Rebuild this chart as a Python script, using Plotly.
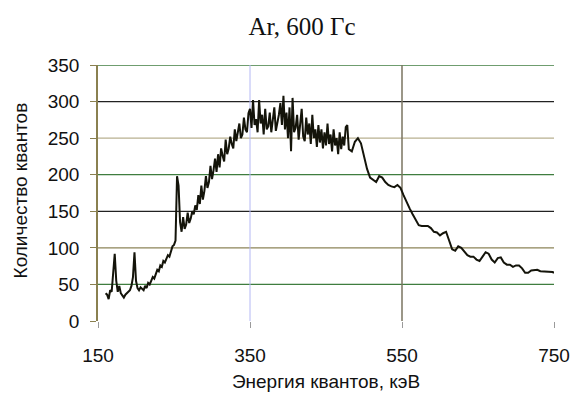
import plotly.graph_objects as go

# Energy (keV) and counts
energy = [
    160, 162, 164, 166, 168, 170, 172, 174, 176, 178, 180, 182, 184, 186, 188, 190,
    192, 194, 196, 198, 200, 202, 204, 206, 208, 210, 212, 214, 216, 218, 220, 222,
    224, 226, 228, 230, 232, 234, 236, 238, 240, 242, 244, 246, 248, 250, 252,
    254, 256, 258, 260, 262, 264, 266, 268, 270, 272, 274, 276, 278, 280, 282, 284,
    286, 288, 290, 292, 294, 296, 298, 300, 302, 304, 306, 308, 310, 312, 314, 316,
    318, 320, 322, 324, 326, 328, 330, 332, 334, 336, 338, 340, 342, 344, 346, 348,
    350, 352, 354, 356, 358, 360, 362, 364, 366, 368, 370, 372, 374, 376, 378, 380,
    382, 384, 386, 388, 390, 392, 394, 396, 398, 400, 402, 404, 406, 408, 410, 412,
    414, 416, 418, 420, 422, 424, 426, 428, 430, 432, 434, 436, 438, 440, 442, 444,
    446, 448, 450, 452, 454, 456, 458, 460, 462, 464, 466, 468, 470, 472, 474, 476,
    478, 480,
    484, 488, 492, 496, 500, 504, 508, 512, 516, 520, 524, 528, 532, 536, 540, 544,
    548, 552, 556, 560, 564, 568, 572, 576, 580, 584, 588, 592, 596, 600, 604, 608,
    612, 616, 620, 624, 628, 632, 636, 640, 644, 648, 652, 656, 660, 664, 668, 672,
    676, 680, 684, 688, 692, 696, 700, 704, 708, 712, 716, 720, 724, 728, 732, 736,
    740, 744, 748, 750,
]
counts = [
    38, 36, 30, 42, 40, 62, 92, 55, 40, 48, 38, 35, 32, 36, 38, 40,
    42, 48, 60, 94, 55, 45, 42, 46, 44, 42, 48, 45, 52, 50, 55, 60,
    58, 66, 70, 68, 76, 74, 82, 80, 86, 90, 88, 96, 102, 104, 110,
    198, 185, 135, 122, 142, 126, 132, 148, 134, 140, 150, 146, 158, 152, 172, 160,
    185, 166, 178, 198, 182, 190, 212, 194, 206, 222, 204, 228, 210, 236, 226, 218,
    248, 228, 236, 252, 242, 236, 262, 246, 258, 270, 250, 255, 278, 262, 258, 284,
    290, 264, 302, 268, 276, 258, 302, 270, 282, 255, 290, 262, 266, 285, 258, 280,
    292, 260, 270, 282, 298, 268, 308, 262, 285, 250, 292, 232, 305, 258, 264, 282,
    248, 275, 290, 252, 246, 278, 255, 270, 242, 282, 250, 262, 238, 268, 244, 262,
    236, 258, 240, 270, 242, 255, 232, 262, 240, 250, 228, 258, 235, 252, 240, 265,
    268, 235,
    232, 245, 250, 243, 225, 208, 196, 193, 190, 198, 196, 190, 186, 184, 183, 186,
    182, 172, 162, 154, 146, 138, 131, 130, 130, 130, 127, 122, 121, 117, 120, 122,
    110, 98, 96, 102, 100, 95, 90, 88, 88, 84, 82, 88, 94, 92, 84, 80,
    86, 87, 80, 77, 77, 74, 76, 76, 72, 66, 66, 69, 70, 70, 68, 68,
    67, 67, 67, 66,
]

x_ticks = [150, 350, 550, 750]
y_ticks = [0, 50, 100, 150, 200, 250, 300, 350]

title_text = "Ar, 600 Гс"
x_title = "Энергия квантов, кэВ"
y_title = "Количество квантов"

# gridline colours as seen in the reference
h_grid = {50: "#3f7d3f", 100: "#8c8458", 150: "#222222", 200: "#3f7d3f",
          250: "#b8b090", 300: "#222222", 350: "#3f7d3f"}
v_grid = {350: "#b4b8f4", 550: "#7a7560"}

fig = go.Figure()
fig.add_trace(go.Scatter(
    x=energy, y=counts, mode="lines",
    line=dict(color="#14140a", width=2),
    showlegend=False, hoverinfo="x+y",
))

shapes = []
for yv, col in h_grid.items():
    shapes.append(dict(type="line", xref="paper", yref="y", x0=0, x1=1, y0=yv, y1=yv,
                       line=dict(color=col, width=1.3), layer="below"))
for xv, col in v_grid.items():
    shapes.append(dict(type="line", xref="x", yref="paper", x0=xv, x1=xv, y0=0, y1=1,
                       line=dict(color=col, width=1.5 if xv == 550 else 1), layer="below"))

fig.update_layout(
    width=574, height=396,
    margin=dict(l=98, r=20, t=65, b=75),
    paper_bgcolor="white", plot_bgcolor="white",
    shapes=shapes,
    title=dict(text=title_text, x=302 / 574, xanchor="center", y=1 - 26 / 396, yanchor="middle",
               xref="container", yref="container",
               font=dict(family="Liberation Serif", size=25, color="#111111")),
    font=dict(family="Liberation Sans", color="#111111"),
    annotations=[dict(text=y_title, textangle=-90, xref="paper", yref="paper",
                      x=(20 - 98) / 456, y=0.51, xanchor="center", yanchor="middle",
                      showarrow=False, font=dict(size=19, color="#111111"))],
)
fig.update_xaxes(
    range=[150, 750], tickvals=x_ticks, ticktext=[str(v) for v in x_ticks],
    showgrid=False, zeroline=False, showline=False, automargin=False,
    ticks="outside", ticklen=6, tickcolor="#9a9a9a",
    tickfont=dict(size=19, color="#111111"), ticklabelstandoff=11,
    title=dict(text=x_title, font=dict(size=19, color="#111111"), standoff=9),
)
fig.update_yaxes(
    range=[0, 350], tickvals=y_ticks, ticktext=[str(v) for v in y_ticks],
    showgrid=False, zeroline=False, showline=True, linecolor="#8a8050", linewidth=1.5,
    automargin=False,
    ticks="outside", ticklen=6, tickcolor="#8a8050",
    tickfont=dict(size=19, color="#111111"), ticklabelstandoff=7,
)

fig.write_html("out.html", config={"displayModeBar": False},
               post_script="document.body.style.margin='0';")
